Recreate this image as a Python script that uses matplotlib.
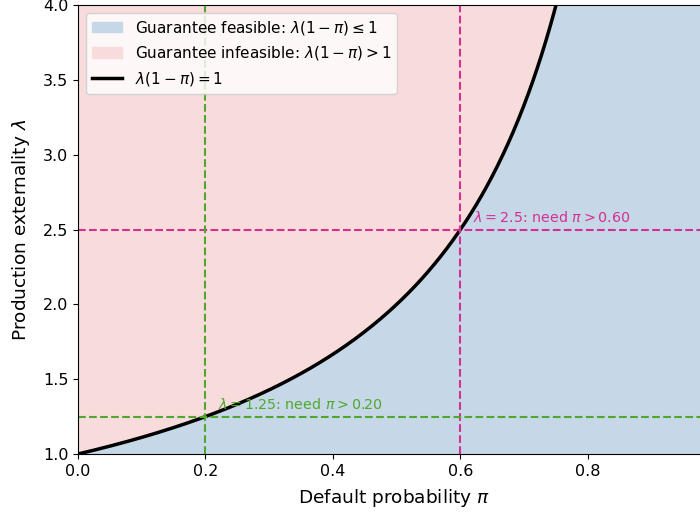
import numpy as np
import matplotlib.pyplot as plt

# threshold cases shown on the chart
lam_cases = [2.5, 1.25]
pi_cases = [0.60, 0.20]
case_colors = ['#d62f94', '#4fa82e']

x_max = 0.99
y_min, y_max = 1.0, 4.0

# boundary lambda*(1-pi) = 1
pi = np.linspace(0, x_max, 600)
lam = 1 / (1 - pi)

fig = plt.figure(figsize=(7, 5.15), dpi=100)
ax = fig.add_axes([78/700, 61/515, (709-78)/700, (454-5)/515])

ax.fill_between(pi, y_min, np.minimum(lam, y_max), color='#c6d8e8',
                label=r'Guarantee feasible: $\lambda(1-\pi)\leq 1$')
ax.fill_between(pi, np.minimum(lam, y_max), y_max, color='#f8dcdc',
                label=r'Guarantee infeasible: $\lambda(1-\pi)>1$')
ax.plot(pi, lam, color='black', lw=2.5, label=r'$\lambda(1-\pi)=1$')

for l, p, c in zip(lam_cases, pi_cases, case_colors):
    ax.axhline(l, color=c, ls='--', lw=1.5)
    ax.axvline(p, color=c, ls='--', lw=1.5)
    ax.text(p + 0.02, l + 0.03, r'$\lambda = %s$: need $\pi > %.2f$' % (l, p),
            color=c, fontsize=10.3, va='bottom')

ax.set_xlim(0, x_max)
ax.set_ylim(y_min, y_max)
ax.set_xticks([0.0, 0.2, 0.4, 0.6, 0.8])
ax.tick_params(labelsize=11.5)
ax.set_xlabel(r'Default probability $\pi$', fontsize=13.3, labelpad=6)
ax.set_ylabel(r'Production externality $\lambda$', fontsize=13.3, labelpad=8)
ax.legend(loc='upper left', fontsize=11)

fig.savefig('out.png', dpi=100)
